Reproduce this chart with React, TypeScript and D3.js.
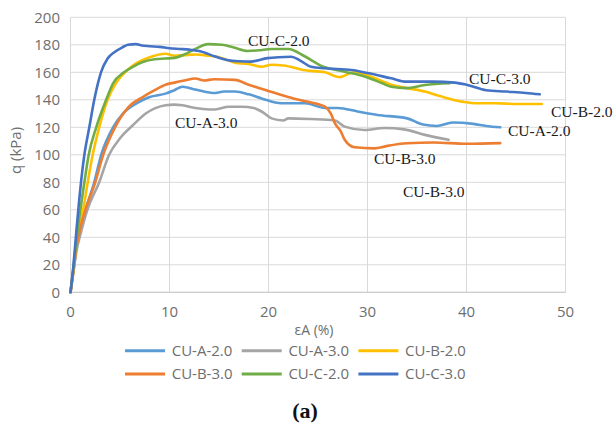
import React from "react";
import * as d3 from "d3";

const xTicks = [0, 10, 20, 30, 40, 50];
const yTicks = [0, 20, 40, 60, 80, 100, 120, 140, 160, 180, 200];

const seriesNames = ["CU-A-2.0", "CU-A-3.0", "CU-B-2.0", "CU-B-3.0", "CU-C-2.0", "CU-C-3.0"];
const seriesColors = ["#5B9BD5", "#A5A5A5", "#FFC000", "#ED7D31", "#70AD47", "#4472C4"];

const cuA20: [number, number][] = [
  [0, 0], [0.3, 16], [0.6, 32], [1.0, 46], [1.6, 62], [2.4, 80], [3.1, 100], [4.3, 120], [5.3, 130],
  [6.95, 138.5], [8, 142], [9.6, 144.5], [10.5, 147], [11.3, 149.5], [12.6, 147.5], [13.5, 146],
  [14.6, 145], [15.5, 146], [16.6, 146], [18, 144], [19.3, 141], [21.3, 137.5], [23.7, 137.5],
  [25.7, 134], [27, 134], [29, 131.5], [31, 129], [34, 126.5], [35.6, 122], [37, 121], [38.6, 123.5],
  [40.7, 122.5], [42, 121], [43.4, 120],
];
const cuA30: [number, number][] = [
  [0, 0], [0.3, 15], [0.6, 30], [1.0, 42], [1.7, 60], [2.9, 80], [3.9, 100], [5, 112], [6.3, 121.5],
  [7.6, 130], [9.6, 136], [10.5, 136.5], [11.3, 136], [12.6, 134], [14, 133], [14.6, 133],
  [16, 135], [17.3, 135], [18.5, 134], [19.3, 131.5], [20.3, 126.5], [21.5, 125], [22, 126.5],
  [24.3, 126], [26.7, 125], [27.7, 120.5], [29.7, 118], [31.7, 119.5], [33.7, 118.5], [35.8, 114.5],
  [38.2, 111],
];
const cuB20: [number, number][] = [
  [0, 0], [0.3, 16], [0.6, 34], [1.0, 50], [1.4, 65], [1.74, 80], [2.24, 100], [2.9, 120], [3.75, 140],
  [4.5, 151], [5.5, 160], [6.3, 165], [8, 171], [9.6, 173.5], [10.5, 172], [11.5, 172.5], [12.6, 173], [14, 172],
  [15, 171], [16.6, 167], [18, 166], [19.3, 164], [20.3, 165.5], [21.5, 165], [23.7, 161.5], [25.7, 160],
  [27.2, 156.5], [28.6, 160], [30.3, 157], [32.4, 151], [34, 148.5], [35.8, 146], [37.4, 142.5],
  [39.7, 138.5], [41, 137.5], [43, 137.5], [45, 137], [47.6, 137],
];
const cuB30: [number, number][] = [
  [0, 0], [0.3, 16], [0.6, 33], [1.0, 47], [1.6, 62], [2.5, 80], [3.3, 100], [4.5, 120], [5.9, 135],
  [7.3, 142], [8.5, 147], [9.6, 151], [10.5, 152.5], [11.5, 154], [12.6, 155.5], [13.5, 154], [14.5, 155],
  [16.6, 154.5], [18, 151], [19.3, 148], [21.3, 143.5], [22.5, 141], [24, 138.5], [25.7, 135], [26.3, 130],
  [26.7, 123], [27.3, 117], [27.7, 111], [28.7, 105.5], [30.7, 104.7], [32, 106.5], [34, 108.4],
  [36.7, 109], [40, 108], [43.4, 108.5],
];
const cuC20: [number, number][] = [
  [0, 0], [0.3, 18], [0.6, 38], [1.0, 60], [1.4, 80], [1.84, 100], [2.6, 120], [3.6, 140], [4.3, 152],
  [5.4, 160], [6.3, 164], [7.3, 167.5], [8.5, 169.5], [9.6, 170], [10.5, 170.5], [11.5, 173],
  [12.6, 177], [13.9, 180.5], [15.3, 180], [16.5, 178], [17.9, 175.5], [19, 176], [20.3, 177], [22, 177],
  [23.7, 171.5], [25.4, 164.5], [27.7, 160.4], [29.7, 157], [31.5, 152], [32.4, 149.5], [33.9, 148.5],
  [35.8, 150.8], [38.3, 152],
];
const cuC30: [number, number][] = [
  [0, 0], [0.3, 20], [0.6, 45], [0.85, 65], [1.06, 80], [1.4, 100], [1.9, 120], [2.4, 140], [3.08, 160],
  [3.75, 170], [4.5, 175], [5.2, 178], [5.8, 180], [6.6, 180.5], [7.2, 179.5], [8, 179],
  [9, 178.5], [10, 177.5], [11, 177], [12, 176.5], [13, 175.5], [14.6, 171.5], [15.8, 169], [17, 168],
  [18.2, 167.8], [19.9, 170.3], [21, 171], [22.3, 171.3], [23.2, 168.5], [24.3, 164], [25.7, 162.9],
  [28.4, 161.7], [30, 159.5], [32.4, 155.6], [33.9, 153.2], [36.6, 153.2], [38.8, 152.5], [40, 151],
  [42, 147], [44, 146], [46, 145], [47.4, 144],
];
const seriesData = [cuA20, cuA30, cuB20, cuB30, cuC20, cuC30];

const annoTexts = ["CU-C-2.0", "CU-A-3.0", "CU-C-3.0", "CU-B-2.0", "CU-A-2.0", "CU-B-3.0", "CU-B-3.0"];
const annoPos: [number, number][] = [
  [248, 46], [175, 128], [469, 84], [551, 117], [508, 136], [374, 164], [403, 196.5],
];

export default function App() {
  const W = 616, H = 424;
  const x = d3.scaleLinear().domain([0, 50]).range([70.5, 565.5]);
  const y = d3.scaleLinear().domain([0, 200]).range([292.3, 17.3]);
  const line = d3.line<[number, number]>().x(d => x(d[0])).y(d => y(d[1])).curve(d3.curveMonotoneX);
  const sans = "'Open Sans', sans-serif";
  const serif = "'Liberation Serif', 'Times New Roman', serif";
  const legendX0 = 125, legendPitch = 116.7, legendRows = [350.7, 374];

  return (
    <svg width={W} height={H} style={{ position: "absolute", left: 0, top: 0, background: "#fff" }}>
      <rect width={W} height={H} fill="#fff" />
      {yTicks.map(t => (
        <line key={"gy" + t} x1={x(0)} x2={x(50)} y1={y(t)} y2={y(t)} stroke="#d9d9d9" strokeWidth={1} />
      ))}
      {xTicks.map(t => (
        <line key={"gx" + t} x1={x(t)} x2={x(t)} y1={y(0)} y2={y(200)} stroke="#d9d9d9" strokeWidth={1} />
      ))}
      <line x1={x(0)} x2={x(50)} y1={y(0)} y2={y(0)} stroke="#c8c8c8" strokeWidth={1} />
      {yTicks.map(t => (
        <text key={"ty" + t} x={60} y={y(t)} dy="0.35em" textAnchor="end" fontFamily={sans} fontSize={15} fill="#6e6e6e">{t}</text>
      ))}
      {xTicks.map(t => (
        <text key={"tx" + t} x={x(t)} y={311.7} dy="0.35em" textAnchor="middle" fontFamily={sans} fontSize={15} fill="#6e6e6e">{t}</text>
      ))}
      <text x={314} y={330} dy="0.35em" textAnchor="middle" fontFamily={sans} fontSize={14} fill="#6e6e6e">εA (%)</text>
      <text transform="translate(16,150.5) rotate(-90)" dy="0.35em" textAnchor="middle" fontFamily={sans} fontSize={15} fill="#6e6e6e">q (kPa)</text>
      {seriesData.map((s, i) => (
        <path key={"s" + i} d={line(s) || ""} fill="none" stroke={seriesColors[i]} strokeWidth={2.6} strokeLinejoin="round" strokeLinecap="round" />
      ))}
      {annoTexts.map((t, i) => (
        <text key={"a" + i} x={annoPos[i][0]} y={annoPos[i][1]} fontFamily={serif} fontSize={15.5} fill="#1a1a1a">{t}</text>
      ))}
      {seriesNames.map((n, i) => {
        const col = i % 3, row = Math.floor(i / 3);
        const lx = legendX0 + col * legendPitch;
        const ly = legendRows[row];
        return (
          <g key={"l" + i}>
            <line x1={lx} x2={lx + 40} y1={ly} y2={ly} stroke={seriesColors[i]} strokeWidth={3} />
            <text x={lx + 46.7} y={ly} dy="0.35em" fontFamily={sans} fontSize={15} fill="#6e6e6e">{n}</text>
          </g>
        );
      })}
      <text x={305} y={410} dy="0.35em" textAnchor="middle" fontFamily={serif} fontWeight="bold" fontSize={22} fill="#111">(a)</text>
    </svg>
  );
}
